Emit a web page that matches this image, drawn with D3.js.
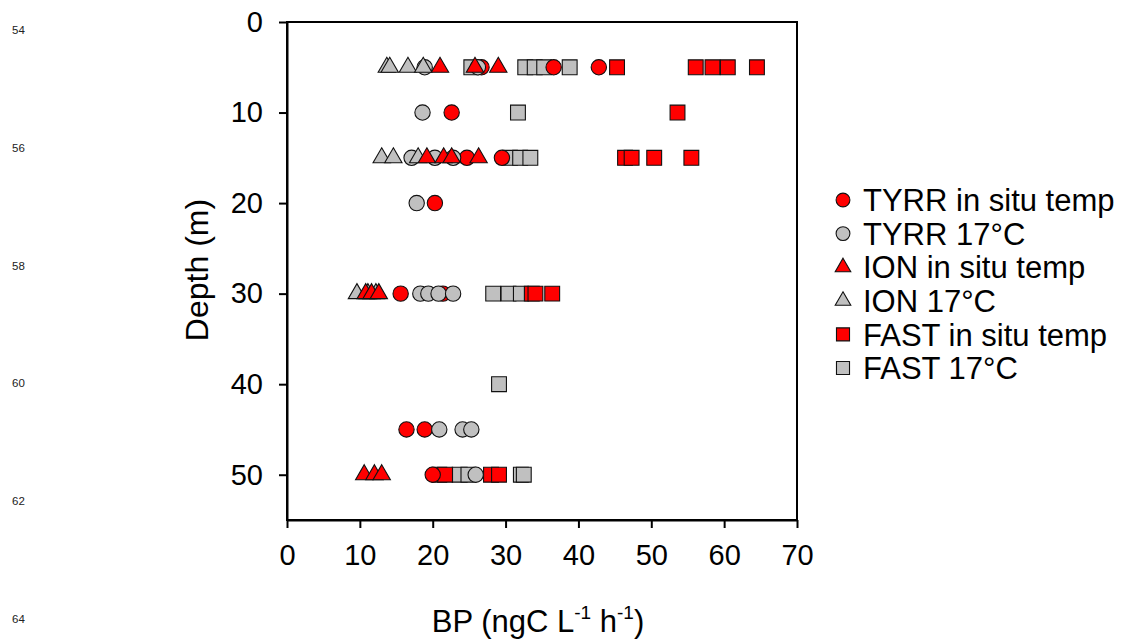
<!DOCTYPE html>
<html>
<head>
<meta charset="utf-8">
<script src="https://cdn.jsdelivr.net/npm/d3@7"></script>
<style>
  html, body { margin: 0; padding: 0; background: #fff; }
  svg { display: block; font-family: "Liberation Sans", Arial, sans-serif; }
</style>
</head>
<body>
<svg id="chart" width="1133" height="641"></svg>
<script>
// Bacterial production (BP) profiles by depth, three stations, two incubation temperatures
const tyrrInSitu = [
  {depth: 5, bp: 26.7}, {depth: 5, bp: 36.6}, {depth: 5, bp: 42.8},
  {depth: 10, bp: 22.6},
  {depth: 15, bp: 24.7}, {depth: 15, bp: 29.5},
  {depth: 20, bp: 20.3},
  {depth: 30, bp: 15.6}, {depth: 30, bp: 21.4},
  {depth: 45, bp: 16.4}, {depth: 45, bp: 18.9},
  {depth: 50, bp: 20.0}
];
const tyrr17 = [
  {depth: 5, bp: 18.9}, {depth: 5, bp: 26.2},
  {depth: 10, bp: 18.6},
  {depth: 15, bp: 17.1}, {depth: 15, bp: 20.3}, {depth: 15, bp: 22.8},
  {depth: 20, bp: 17.8},
  {depth: 30, bp: 18.3}, {depth: 30, bp: 19.4}, {depth: 30, bp: 20.8}, {depth: 30, bp: 22.8},
  {depth: 45, bp: 20.9}, {depth: 45, bp: 24.1}, {depth: 45, bp: 25.3},
  {depth: 50, bp: 25.9}
];
const ionInSitu = [
  {depth: 5, bp: 21.0}, {depth: 5, bp: 25.8}, {depth: 5, bp: 29.0},
  {depth: 15, bp: 19.2}, {depth: 15, bp: 21.5}, {depth: 15, bp: 22.6}, {depth: 15, bp: 26.3},
  {depth: 30, bp: 10.8}, {depth: 30, bp: 11.6}, {depth: 30, bp: 12.6},
  {depth: 50, bp: 10.6}, {depth: 50, bp: 12.0}, {depth: 50, bp: 13.0}
];
const ion17 = [
  {depth: 5, bp: 13.7}, {depth: 5, bp: 14.1}, {depth: 5, bp: 16.6}, {depth: 5, bp: 18.7},
  {depth: 15, bp: 13.0}, {depth: 15, bp: 14.6}, {depth: 15, bp: 18.0},
  {depth: 30, bp: 9.6}, {depth: 30, bp: 11.1}, {depth: 30, bp: 12.2}
];
const fastInSitu = [
  {depth: 5, bp: 45.3}, {depth: 5, bp: 56.1}, {depth: 5, bp: 58.4}, {depth: 5, bp: 60.5}, {depth: 5, bp: 64.5},
  {depth: 10, bp: 53.6},
  {depth: 15, bp: 46.4}, {depth: 15, bp: 47.3}, {depth: 15, bp: 50.4}, {depth: 15, bp: 55.5},
  {depth: 30, bp: 33.6}, {depth: 30, bp: 34.1}, {depth: 30, bp: 36.4},
  {depth: 50, bp: 20.9}, {depth: 50, bp: 21.7}, {depth: 50, bp: 28.0}, {depth: 50, bp: 29.1}
];
const fast17 = [
  {depth: 5, bp: 25.3}, {depth: 5, bp: 32.7}, {depth: 5, bp: 34.0}, {depth: 5, bp: 35.3}, {depth: 5, bp: 38.8},
  {depth: 10, bp: 31.7},
  {depth: 15, bp: 30.6}, {depth: 15, bp: 32.0}, {depth: 15, bp: 33.4},
  {depth: 30, bp: 28.3}, {depth: 30, bp: 30.4}, {depth: 30, bp: 32.1},
  {depth: 40, bp: 29.1},
  {depth: 50, bp: 23.7}, {depth: 50, bp: 24.9}, {depth: 50, bp: 32.1}, {depth: 50, bp: 32.5}
];

const xTicks = [0, 10, 20, 30, 40, 50, 60, 70];
const yTicks = [0, 10, 20, 30, 40, 50];
const lineNumbers = [54, 56, 58, 60, 62, 64];

const RED = "#ff0000", GREY = "#c0c0c0";

// series in legend order
const series = [
  {name: "TYRR in situ temp", data: tyrrInSitu, shape: "circle", fill: RED},
  {name: "TYRR 17°C", data: tyrr17, shape: "circle", fill: GREY},
  {name: "ION in situ temp", data: ionInSitu, shape: "triangle", fill: RED},
  {name: "ION 17°C", data: ion17, shape: "triangle", fill: GREY},
  {name: "FAST in situ temp", data: fastInSitu, shape: "square", fill: RED},
  {name: "FAST 17°C", data: fast17, shape: "square", fill: GREY}
];
// stacking order of the markers
const drawOrder = [5, 4, 0, 1, 3, 2];

const svg = d3.select("#chart");
const plot = {left: 287, right: 797, top: 22, bottom: 520};

const x = d3.scaleLinear().domain([0, 70]).range([plot.left, plot.right]);
const y = d3.scaleLinear().domain([0, 55]).range([plot.top, plot.bottom]);

const symbolType = {circle: d3.symbolCircle, triangle: d3.symbolTriangle, square: d3.symbolSquare};
const plotSize = {circle: 185, triangle: 130, square: 220};
const legendSize = {circle: 150, triangle: 105, square: 170};

// manuscript line numbers in the left margin
svg.append("g").selectAll("text").data(lineNumbers).join("text")
  .attr("x", 12)
  .attr("y", (d, i) => 30 + i * 117.8)
  .attr("dy", "0.35em")
  .attr("font-size", 11.5)
  .attr("fill", "#222")
  .text(d => d);

// frame
svg.append("rect")
  .attr("x", plot.left).attr("y", plot.top)
  .attr("width", plot.right - plot.left).attr("height", plot.bottom - plot.top)
  .attr("fill", "none").attr("stroke", "#000").attr("stroke-width", 2);

// axes
const xAxis = svg.append("g")
  .attr("transform", `translate(0,${plot.bottom})`)
  .call(d3.axisBottom(x).tickValues(xTicks).tickSize(8).tickPadding(16).tickSizeOuter(0));
const yAxis = svg.append("g")
  .attr("transform", `translate(${plot.left},0)`)
  .call(d3.axisLeft(y).tickValues(yTicks).tickSize(8).tickPadding(16).tickSizeOuter(0));
[xAxis, yAxis].forEach(g => {
  g.select(".domain").attr("stroke", "#000").attr("stroke-width", 2);
  g.selectAll(".tick line").attr("stroke", "#000").attr("stroke-width", 2);
  g.selectAll(".tick text").attr("font-size", 29).attr("fill", "#000")
    .attr("font-family", "Liberation Sans, Arial, sans-serif");
});

// axis titles
svg.append("text")
  .attr("transform", `translate(208,270) rotate(-90)`)
  .attr("text-anchor", "middle")
  .attr("font-size", 32)
  .text("Depth (m)");

const xt = svg.append("text")
  .attr("x", 538).attr("y", 632)
  .attr("text-anchor", "middle")
  .attr("font-size", 31);
xt.append("tspan").text("BP (ngC L");
xt.append("tspan").attr("font-size", 19).attr("dy", -13).text("-1");
xt.append("tspan").attr("dy", 13).text(" h");
xt.append("tspan").attr("font-size", 19).attr("dy", -13).text("-1");
xt.append("tspan").attr("dy", 13).text(")");

// markers
const marks = svg.append("g");
drawOrder.forEach(i => {
  const s = series[i];
  marks.append("g").selectAll("path").data(s.data).join("path")
    .attr("transform", d => `translate(${x(d.bp)},${y(d.depth)})`)
    .attr("d", d3.symbol().type(symbolType[s.shape]).size(plotSize[s.shape]))
    .attr("fill", s.fill)
    .attr("stroke", "#111")
    .attr("stroke-width", 1.1);
});

// legend
const legend = svg.append("g");
const rows = legend.selectAll("g").data(series).join("g")
  .attr("transform", (d, i) => `translate(843,${200 + i * 33.6})`);
rows.append("path")
  .attr("d", d => d3.symbol().type(symbolType[d.shape]).size(legendSize[d.shape])())
  .attr("fill", d => d.fill)
  .attr("stroke", "#111")
  .attr("stroke-width", 1.1);
rows.append("text")
  .attr("x", 20)
  .attr("dy", "0.36em")
  .attr("font-size", 31)
  .text(d => d.name);
</script>
</body>
</html>
